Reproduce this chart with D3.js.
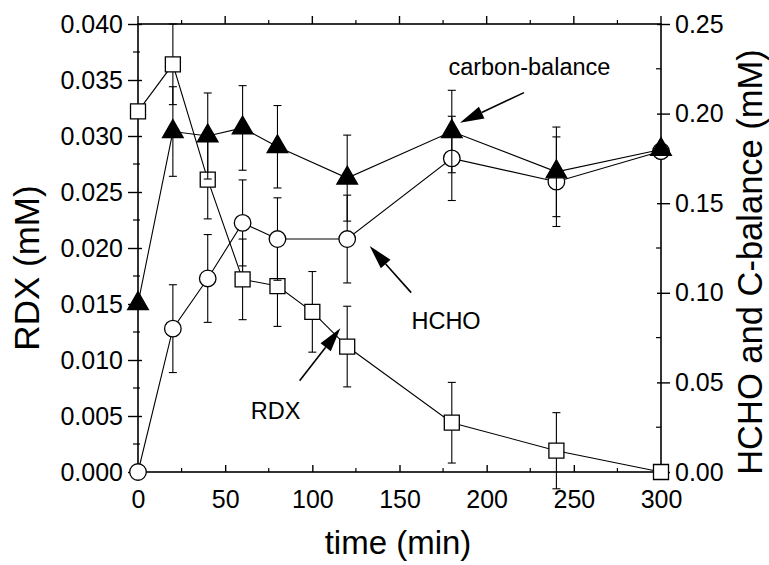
<!DOCTYPE html>
<html><head><meta charset="utf-8">
<script src="https://cdn.jsdelivr.net/npm/d3@7"></script>
<style>
html,body{margin:0;padding:0;background:#fff;}
text{font-family:"Liberation Sans",Arial,Helvetica,sans-serif;fill:#000;}
</style></head>
<body><svg id="c" width="769" height="565"></svg>
<script>
// ---- data ----
const rdxTime = [0, 20, 40, 60, 80, 100, 120, 180, 240, 300];
const rdxVal  = [0.0322, 0.0364, 0.0261, 0.0172, 0.0166, 0.0143, 0.0112, 0.0044, 0.0019, 0.0000];
const rdxErr  = [0, 0.0036, 0.0035, 0.0036, 0.0036, 0.0036, 0.0036, 0.0036, 0.0034, 0];

const hchoTime = [0, 20, 40, 60, 80, 120, 180, 240, 300];
const hchoVal  = [0.000, 0.080, 0.108, 0.139, 0.130, 0.130, 0.175, 0.162, 0.179];
const hchoErr  = [0, 0.0245, 0.0245, 0.024, 0.023, 0.0245, 0.0235, 0.025, 0];

const cbTime = [0, 20, 40, 60, 80, 120, 180, 240, 300];
const cbVal  = [0.094, 0.190, 0.1875, 0.192, 0.1815, 0.164, 0.190, 0.1675, 0.180];
const cbErr  = [0, 0.025, 0.024, 0.0236, 0.023, 0.024, 0.023, 0.025, 0];

const xTicks = [0, 50, 100, 150, 200, 250, 300];
const yLeftTicks = [0, 0.005, 0.010, 0.015, 0.020, 0.025, 0.030, 0.035, 0.040];
const yRightTicks = [0, 0.05, 0.10, 0.15, 0.20, 0.25];

const xLabel = "time (min)";
const yLeftLabel = "RDX (mM)";
const yRightLabel = "HCHO and C-balance (mM)";

// annotations in (time, right-axis mM) units
const labels = [
  {text: "carbon-balance", t: 224.5, v: 0.2215},
  {text: "HCHO", t: 176.7, v: 0.0798},
  {text: "RDX", t: 78.9, v: 0.0296}
];
const arrows = [
  {t0: 221.4, v0: 0.2117, t1: 184.7, v1: 0.1949},
  {t0: 156.7, v0: 0.1001, t1: 132.9, v1: 0.1261},
  {t0: 92.7, v0: 0.0509, t1: 116.1, v1: 0.0802}
];

// ---- layout ----
const svg = d3.select("#c");
const L = 138, R = 661, T = 24, B = 472;
const x = d3.scaleLinear().domain([0, 300]).range([L, R]);
const yL = d3.scaleLinear().domain([0, 0.040]).range([B, T]);
const yR = d3.scaleLinear().domain([0, 0.25]).range([B, T]);

const axisW = 1.6;
const tickFont = 25;

// minor ticks
const xMinor = d3.range(25, 300, 50);
const yLMinor = d3.range(0.0025, 0.040, 0.005);
const yRMinor = d3.range(0.025, 0.25, 0.05);

// bottom axis
const gB = svg.append("g").attr("transform", `translate(0,${B})`)
  .call(d3.axisBottom(x).tickValues(xTicks).tickFormat(d3.format("d")).tickSize(0).tickPadding(18));
gB.select(".domain").remove();
gB.selectAll("text").attr("font-size", tickFont).attr("font-family", '"Liberation Sans",Arial,sans-serif');
gB.selectAll(".tick").append("line").attr("y1", 0).attr("y2", -7).attr("stroke", "#000").attr("stroke-width", 1.4);
svg.append("g").selectAll("line").data(xMinor).join("line")
  .attr("x1", d => x(d)).attr("x2", d => x(d)).attr("y1", B).attr("y2", B - 4).attr("stroke", "#000").attr("stroke-width", 1.2);

// top axis ticks (outward)
svg.append("g").selectAll("line").data(xTicks).join("line")
  .attr("x1", d => x(d)).attr("x2", d => x(d)).attr("y1", T).attr("y2", T - 8).attr("stroke", "#000").attr("stroke-width", 1.4);
svg.append("g").selectAll("line").data(xMinor).join("line")
  .attr("x1", d => x(d)).attr("x2", d => x(d)).attr("y1", T).attr("y2", T - 4).attr("stroke", "#000").attr("stroke-width", 1.2);

// left axis
const gL = svg.append("g").attr("transform", `translate(${L},0)`)
  .call(d3.axisLeft(yL).tickValues(yLeftTicks).tickFormat(d3.format(".3f")).tickSize(0).tickPadding(15));
gL.select(".domain").remove();
gL.selectAll("text").attr("font-size", tickFont).attr("font-family", '"Liberation Sans",Arial,sans-serif');
gL.selectAll(".tick").append("line").attr("x1", -10).attr("x2", 4).attr("stroke", "#000").attr("stroke-width", 1.4);
svg.append("g").selectAll("line").data(yLMinor).join("line")
  .attr("x1", L - 5).attr("x2", L + 2).attr("y1", d => yL(d)).attr("y2", d => yL(d)).attr("stroke", "#000").attr("stroke-width", 1.2);

// right axis
const gR = svg.append("g").attr("transform", `translate(${R},0)`)
  .call(d3.axisRight(yR).tickValues(yRightTicks).tickFormat(d3.format(".2f")).tickSize(0).tickPadding(14));
gR.select(".domain").remove();
gR.selectAll("text").attr("font-size", tickFont).attr("font-family", '"Liberation Sans",Arial,sans-serif');
gR.selectAll(".tick").append("line").attr("x1", -4).attr("x2", 9).attr("stroke", "#000").attr("stroke-width", 1.4);
svg.append("g").selectAll("line").data(yRMinor).join("line")
  .attr("x1", R - 5).attr("x2", R).attr("y1", d => yR(d)).attr("y2", d => yR(d)).attr("stroke", "#000").attr("stroke-width", 1.2);

// frame
svg.append("rect").attr("x", L).attr("y", T).attr("width", R - L).attr("height", B - T)
  .attr("fill", "none").attr("stroke", "#000").attr("stroke-width", axisW);

// axis titles
svg.append("text").attr("x", 398).attr("y", 554).attr("text-anchor", "middle").attr("font-size", 33).text(xLabel);
svg.append("text").attr("transform", "translate(39,268) rotate(-90)").attr("text-anchor", "middle").attr("font-size", 35).text(yLeftLabel);
svg.append("text").attr("transform", "translate(762,262) rotate(-90)").attr("text-anchor", "middle").attr("font-size", 34.5).text(yRightLabel);

// ---- series ----
function series(times, vals, errs, yScale, shape) {
  const pts = times.map((t, i) => ({t, v: vals[i], e: errs[i]}));
  const g = svg.append("g");
  g.append("path").datum(pts)
    .attr("d", d3.line().x(d => x(d.t)).y(d => yScale(d.v)))
    .attr("fill", "none").attr("stroke", "#000").attr("stroke-width", 1.1);
  const eb = g.append("g").selectAll("g").data(pts.filter(d => d.e > 0)).join("g");
  eb.append("line").attr("x1", d => x(d.t)).attr("x2", d => x(d.t))
    .attr("y1", d => yScale(d.v - d.e)).attr("y2", d => yScale(d.v + d.e)).attr("stroke", "#000").attr("stroke-width", 1.1);
  eb.append("line").attr("x1", d => x(d.t) - 4).attr("x2", d => x(d.t) + 4)
    .attr("y1", d => yScale(d.v - d.e)).attr("y2", d => yScale(d.v - d.e)).attr("stroke", "#000").attr("stroke-width", 1.1);
  eb.append("line").attr("x1", d => x(d.t) - 4).attr("x2", d => x(d.t) + 4)
    .attr("y1", d => yScale(d.v + d.e)).attr("y2", d => yScale(d.v + d.e)).attr("stroke", "#000").attr("stroke-width", 1.1);
  const sym = d3.symbol().type(shape.type).size(shape.size);
  g.append("g").selectAll("path").data(pts).join("path")
    .attr("d", sym).attr("transform", d => `translate(${x(d.t)},${yScale(d.v)})`)
    .attr("fill", shape.fill).attr("stroke", "#000").attr("stroke-width", 1.3);
}
series(rdxTime, rdxVal, rdxErr, yL, {type: d3.symbolSquare, size: 225, fill: "#fff"});
series(hchoTime, hchoVal, hchoErr, yR, {type: d3.symbolCircle, size: 215, fill: "#fff"});
series(cbTime, cbVal, cbErr, yR, {type: d3.symbolTriangle, size: 185, fill: "#000"});

// ---- annotations ----
svg.append("g").selectAll("text").data(labels).join("text")
  .attr("x", d => x(d.t)).attr("y", d => yR(d.v)).attr("text-anchor", "middle").attr("font-size", 23.5).text(d => d.text);

const ag = svg.append("g");
arrows.forEach(a => {
  const x0 = x(a.t0), y0 = yR(a.v0), x1 = x(a.t1), y1 = yR(a.v1);
  const ang = Math.atan2(y1 - y0, x1 - x0);
  const hl = 24, hw = 6.5;
  const bx = x1 - hl * Math.cos(ang), by = y1 - hl * Math.sin(ang);
  ag.append("line").attr("x1", x0).attr("y1", y0).attr("x2", bx).attr("y2", by).attr("stroke", "#000").attr("stroke-width", 1.6);
  const px = -Math.sin(ang) * hw, py = Math.cos(ang) * hw;
  ag.append("path").attr("d", `M${x1},${y1}L${bx + px},${by + py}L${bx - px},${by - py}Z`).attr("fill", "#000");
});
</script></body></html>
